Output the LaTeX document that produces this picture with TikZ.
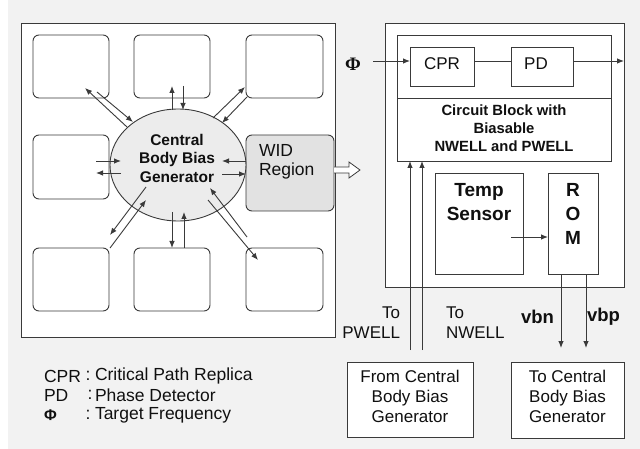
\documentclass[tikz,border=0pt]{standalone}
\usepackage{fontspec}
\setmainfont{Liberation Sans}
\newfontfamily\grserif{Liberation Serif}
\usetikzlibrary{arrows.meta,shapes.geometric}
\definecolor{bg}{HTML}{F2F2F2}
\definecolor{ln}{HTML}{3A3A3A}
\definecolor{tx}{HTML}{101010}
\definecolor{widfill}{HTML}{E2E2E2}
\definecolor{ellfill}{HTML}{ECECEC}
\begin{document}
\begin{tikzpicture}[x=1pt,y=-1pt,
  line width=0.9pt,
  every node/.style={text=tx, inner sep=0pt, outer sep=0pt},
  sbox/.style={draw=ln, fill=white, rounded corners=6pt},
  pbox/.style={draw=ln, fill=white},
  arr/.style={draw=ln, -{Latex[length=7pt,width=5.5pt]}},
  txt/.style={font=\fontsize{17}{20}\selectfont, align=center},
  btxt/.style={font=\bfseries\fontsize{15.5}{18.5}\selectfont, align=center},
  lgd/.style={font=\fontsize{17.5}{20}\selectfont, anchor=west},
]
\useasboundingbox (0,0) rectangle (640,449);
\fill[white] (0,0) rectangle (640,449);
\fill[bg] (8,0) rectangle (640,449);

% ---------- left part ----------
\node[pbox, minimum width=314pt, minimum height=314pt] (die) at (178,180) {};
\node[sbox, minimum width=76pt, minimum height=63pt] (b11) at (71,66.5) {};
\node[sbox, minimum width=76pt, minimum height=63pt] (b12) at (172,66.5) {};
\node[sbox, minimum width=77pt, minimum height=63pt] (b13) at (284.5,66.5) {};
\node[sbox, minimum width=76pt, minimum height=64pt] (b21) at (71,167) {};
\node[sbox, minimum width=76pt, minimum height=63pt] (b31) at (71,279.5) {};
\node[sbox, minimum width=76pt, minimum height=63pt] (b32) at (172,279.5) {};
\node[sbox, minimum width=77pt, minimum height=63pt] (b33) at (284.5,279.5) {};
\node[sbox, fill=widfill, minimum width=88pt, minimum height=76pt] (wid) at (290,173) {};
\node[anchor=west, font=\fontsize{17.5}{19}\selectfont, align=left] (widt) at (259,162) {WID\\Region};
\node[ellipse, draw=ln, fill=ellfill, minimum width=136pt, minimum height=112pt] (cbbg) at (178,165) {};
\node[btxt] (cbbgt) at (177,158) {Central\\Body Bias\\Generator};

% arrows around the generator
\draw[arr] (127,127) -- (85,88);
\draw[arr] (97,92) -- (133,122);
\draw[arr] (172,110) -- (172,86);
\draw[arr] (183,86) -- (183,110);
\draw[arr] (213,118) -- (245,87);
\draw[arr] (247,97) -- (222,123);
\draw[arr] (96,161) -- (121,161);
\draw[arr] (121,173) -- (96,173);
\draw[arr] (246,161) -- (222,161);
\draw[arr] (222,174) -- (246,174);
\draw[arr] (146,187) -- (110,235);
\draw[arr] (110,248) -- (146,200);
\draw[arr] (172,212) -- (172,248);
\draw[arr] (184,248) -- (184,212);
\draw[arr] (247,237) -- (210,188);
\draw[arr] (208,200) -- (258,260);

% hollow arrow out of WID region
\draw[ln, fill=white, line width=0.8pt] (wid.east |- 0,167) -- (349,167) -- (349,162) -- (360,170)
  -- (349,178) -- (349,173) -- (wid.east |- 0,173);

% ---------- right part ----------
\node[pbox, minimum width=239pt, minimum height=264pt] (chip) at (504.5,155) {};
\node[pbox, minimum width=214pt, minimum height=126pt] (cb) at (504,98) {};
\draw[ln] (cb.west |- 0,98) -- (cb.east |- 0,98);
\node[pbox, minimum width=64pt, minimum height=39pt] (cpr) at (442,66.5) {};
\node[font=\fontsize{17}{20}\selectfont] (cprt) at (442,64) {CPR};
\node[pbox, minimum width=62pt, minimum height=39pt] (pd) at (542,66.5) {};
\node[font=\fontsize{17}{20}\selectfont] (pdt) at (536,64) {PD};
\node[font=\grserif\bfseries\fontsize{19}{20}\selectfont] (phi) at (353,64) {Φ};
\draw[arr] (373,61) -- (cpr.west |- 0,61);
\draw[ln] (cpr.east |- 0,61) -- (pd.west |- 0,61);
\draw[arr] (pd.east |- 0,61) -- (chip.east |- 0,61);
\node[font=\bfseries\fontsize{14.8}{18}\selectfont, align=center] (cbt) at (504,128) {Circuit Block with\\Biasable\\NWELL and PWELL};

\node[pbox, minimum width=88pt, minimum height=101pt] (temp) at (479,223.5) {};
\node[font=\bfseries\fontsize{19}{24}\selectfont, align=center] (tempt) at (479,202) {Temp\\Sensor};
\node[pbox, minimum width=50pt, minimum height=101pt] (rom) at (573,223.5) {};
\node[font=\bfseries\fontsize{19}{24}\selectfont, align=center] (romt) at (573,214) {R\\O\\M};
\draw[arr] (511,237) -- (rom.west |- 0,237);

% from / to boxes
\node[pbox, minimum width=126pt, minimum height=75pt] (from) at (410,399.5) {};
\node[txt] (fromt) at (410,396) {From Central\\Body Bias\\Generator};
\node[pbox, minimum width=113pt, minimum height=76pt] (to) at (567.5,400) {};
\node[txt] (tot) at (567.5,396) {To Central\\Body Bias\\Generator};

\draw[arr] (410,350) -- (410,161);
\draw[arr] (422,350) -- (422,161);
\draw[arr] (561,274) -- (561,348);
\draw[arr] (586,274) -- (586,348);

\node[txt, align=right, anchor=east] (topw) at (400,323) {To\\PWELL};
\node[txt, align=left, anchor=west] (tonw) at (446,323) {To\\NWELL};
\node[font=\bfseries\fontsize{18.5}{20}\selectfont, anchor=east] (vbn) at (554,317) {vbn};
\node[font=\bfseries\fontsize{18.5}{20}\selectfont, anchor=west] (vbp) at (587,317) {vbp};

% ---------- legend ----------
\node[lgd] (l1a) at (44,376) {CPR};
\node[lgd] (l2a) at (44,395) {PD};
\node[lgd, font=\bfseries\fontsize{15.5}{20}\selectfont] (l3a) at (44,415) {Φ};
\node[lgd, anchor=center] (l1c) at (88,376) {:};
\node[lgd, anchor=center] (l2c) at (90,395) {:};
\node[lgd, anchor=center] (l3c) at (88,415) {:};
\node[lgd] (l1b) at (95,376) {Critical Path Replica};
\node[lgd] (l2b) at (95,395) {Phase Detector};
\node[lgd] (l3b) at (95,415) {Target Frequency};
\end{tikzpicture}
\end{document}
